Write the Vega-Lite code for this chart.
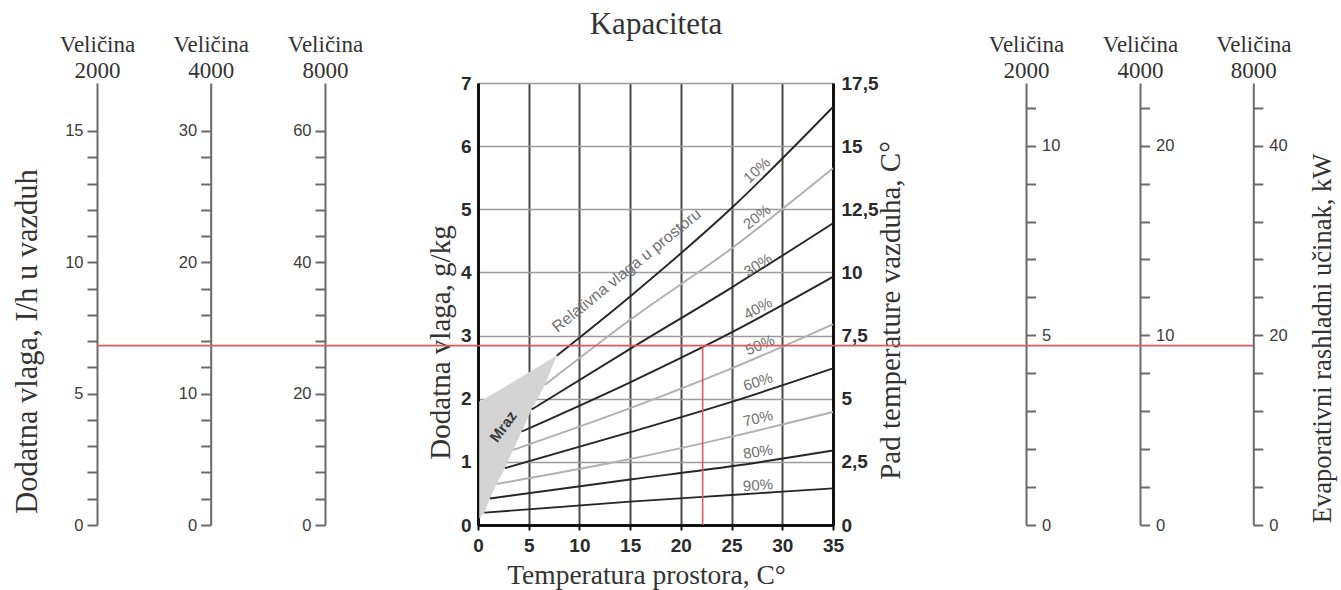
{
  "$schema": "https://vega.github.io/schema/vega-lite/v6.json",
  "width": 355,
  "height": 442,
  "autosize": {"type": "none"},
  "padding": {"left": 478, "top": 83, "right": 508, "bottom": 65},
  "background": "white",
  "config": {"view": {"stroke": null}, "axis": {"labelFlush": false, "labelOverlap": false}},
  "datasets": {
    "rh": [
      {"rh": 10, "x": 7.76, "y": 2.68}, {"rh": 10, "x": 15, "y": 3.62}, {"rh": 10, "x": 25, "y": 5.02}, {"rh": 10, "x": 35, "y": 6.62},
      {"rh": 20, "x": 6.6, "y": 2.22}, {"rh": 20, "x": 15, "y": 3.25}, {"rh": 20, "x": 25, "y": 4.38}, {"rh": 20, "x": 35, "y": 5.65},
      {"rh": 30, "x": 5.29, "y": 1.83}, {"rh": 30, "x": 15, "y": 2.79}, {"rh": 30, "x": 25, "y": 3.76}, {"rh": 30, "x": 35, "y": 4.78},
      {"rh": 40, "x": 4.31, "y": 1.48}, {"rh": 40, "x": 15, "y": 2.26}, {"rh": 40, "x": 25, "y": 3.05}, {"rh": 40, "x": 35, "y": 3.93},
      {"rh": 50, "x": 3.48, "y": 1.19}, {"rh": 50, "x": 15, "y": 1.85}, {"rh": 50, "x": 25, "y": 2.48}, {"rh": 50, "x": 35, "y": 3.18},
      {"rh": 60, "x": 2.66, "y": 0.9}, {"rh": 60, "x": 15, "y": 1.47}, {"rh": 60, "x": 25, "y": 1.95}, {"rh": 60, "x": 35, "y": 2.48},
      {"rh": 70, "x": 1.84, "y": 0.65}, {"rh": 70, "x": 15, "y": 1.045}, {"rh": 70, "x": 25, "y": 1.4}, {"rh": 70, "x": 35, "y": 1.79},
      {"rh": 80, "x": 1.18, "y": 0.42}, {"rh": 80, "x": 15, "y": 0.72}, {"rh": 80, "x": 25, "y": 0.93}, {"rh": 80, "x": 35, "y": 1.18},
      {"rh": 90, "x": 0.62, "y": 0.195}, {"rh": 90, "x": 15, "y": 0.37}, {"rh": 90, "x": 25, "y": 0.475}, {"rh": 90, "x": 35, "y": 0.58}
    ],
    "labels": [
      {"rh": 10, "x": 27.5, "y": 5.62, "t": "10%"},
      {"rh": 20, "x": 27.5, "y": 4.88, "t": "20%"},
      {"rh": 30, "x": 27.6, "y": 4.12, "t": "30%"},
      {"rh": 40, "x": 27.6, "y": 3.43, "t": "40%"},
      {"rh": 50, "x": 27.8, "y": 2.85, "t": "50%"},
      {"rh": 60, "x": 27.6, "y": 2.27, "t": "60%"},
      {"rh": 70, "x": 27.6, "y": 1.69, "t": "70%"},
      {"rh": 80, "x": 27.6, "y": 1.16, "t": "80%"},
      {"rh": 90, "x": 27.6, "y": 0.63, "t": "90%"}
    ],
    "mraz": [
      {"x": 0.12, "y": 1.95, "y2": 0.1},
      {"x": 0.62, "y": 1.995, "y2": 0.195},
      {"x": 1.18, "y": 2.049, "y2": 0.42},
      {"x": 1.84, "y": 2.112, "y2": 0.65},
      {"x": 2.66, "y": 2.19, "y2": 0.9},
      {"x": 3.48, "y": 2.269, "y2": 1.19},
      {"x": 4.31, "y": 2.349, "y2": 1.48},
      {"x": 5.29, "y": 2.443, "y2": 1.83},
      {"x": 6.6, "y": 2.569, "y2": 2.22},
      {"x": 7.76, "y": 2.68, "y2": 2.68}
    ],
    "red": [
      {"x": -37.56, "x2": 76.44, "y": 2.84, "y2": 2.84},
      {"x": 22.15, "x2": 22.15, "y": 0, "y2": 2.84}
    ],
    "rel": [{"x": 14.66, "y": 4.03, "t": "Relativna vlaga u prostoru"}],
    "mr": [{"x": 2.5, "y": 1.56, "t": "Mraz"}],
    "axis0": [{"v": 0}]
  },
  "layer": [
    {
      "data": {"name": "mraz"},
      "mark": {"type": "area", "color": "#d4d4d4", "orient": "vertical"},
      "encoding": {
        "x": {"field": "x", "type": "quantitative", "scale": {"domain": [0, 35], "nice": false, "zero": false},
          "axis": {"values": [0, 5, 10, 15, 20, 25, 30, 35], "grid": true, "gridColor": "#4a4a4a", "gridWidth": 2,
            "domainColor": "#111111", "domainWidth": 3, "tickColor": "#111111", "tickWidth": 2, "tickSize": 5,
            "labelFont": "Liberation Sans Narrow, Liberation Sans, sans-serif", "labelFontWeight": "bold", "labelFontSize": 19, "labelColor": "#2a2a2a", "labelPadding": 6,
            "title": "Temperatura prostora, C°", "titleFont": "Liberation Serif", "titleFontSize": 27.5, "titleFontWeight": "normal", "titleColor": "#333333",
            "titleX": 168, "titleY": 58, "titleAlign": "center", "titleBaseline": "alphabetic", "titleAngle": 0}},
        "y": {"field": "y", "type": "quantitative", "scale": {"domain": [0, 7], "nice": false},
          "axis": {"orient": "left", "values": [0, 1, 2, 3, 4, 5, 6, 7], "grid": true, "gridColor": "#9a9a9a", "gridWidth": 1.5,
            "domainColor": "#111111", "domainWidth": 3, "ticks": false,
            "labelFont": "Liberation Sans Narrow, Liberation Sans, sans-serif", "labelFontWeight": "bold", "labelFontSize": 19, "labelColor": "#2a2a2a", "labelPadding": 7,
            "title": "Dodatna vlaga, g/kg", "titleFont": "Liberation Serif", "titleFontSize": 29, "titleFontWeight": "normal", "titleColor": "#333333",
            "titleAngle": 270, "titleX": -38, "titleY": 259, "titleAlign": "center", "titleBaseline": "middle"}},
        "y2": {"field": "y2"}
      }
    },
    {
      "data": {"name": "rh"},
      "mark": {"type": "line", "strokeWidth": 1.9, "interpolate": "monotone"},
      "encoding": {
        "x": {"field": "x", "type": "quantitative", "scale": {"domain": [0, 35], "nice": false, "zero": false},
          "axis": {"values": [0, 5, 10, 15, 20, 25, 30, 35], "grid": true, "gridColor": "#4a4a4a", "gridWidth": 2,
            "domainColor": "#111111", "domainWidth": 3, "tickColor": "#111111", "tickWidth": 2, "tickSize": 5,
            "labelFont": "Liberation Sans Narrow, Liberation Sans, sans-serif", "labelFontWeight": "bold", "labelFontSize": 19, "labelColor": "#2a2a2a", "labelPadding": 6,
            "title": "Temperatura prostora, C°", "titleFont": "Liberation Serif", "titleFontSize": 27.5, "titleFontWeight": "normal", "titleColor": "#333333",
            "titleX": 168, "titleY": 58, "titleAlign": "center", "titleBaseline": "alphabetic", "titleAngle": 0}},
        "y": {"field": "y", "type": "quantitative", "scale": {"domain": [0, 7], "nice": false},
          "axis": {"orient": "left", "offset": 0, "domain": false, "ticks": false, "labels": false, "grid": false,
            "title": "Kapaciteta", "titleFont": "Liberation Serif", "titleFontSize": 31, "titleFontWeight": "normal", "titleColor": "#333333",
            "titleAngle": 0, "titleX": 177.5, "titleY": -50, "titleAlign": "center", "titleBaseline": "alphabetic"}},
        "color": {"field": "rh", "type": "nominal",
          "scale": {"domain": [10, 20, 30, 40, 50, 60, 70, 80, 90], "range": ["#262626", "#b0b0b0", "#262626", "#262626", "#b0b0b0", "#262626", "#b0b0b0", "#262626", "#262626"]},
          "legend": null}
      }
    },
    {
      "data": {"name": "labels"},
      "mark": {"type": "text", "font": "Liberation Sans", "fontSize": 15, "color": "#707070", "align": "center", "baseline": "middle"},
      "encoding": {
        "x": {"field": "x", "type": "quantitative", "scale": {"domain": [0, 35], "nice": false, "zero": false},
          "axis": {"values": [0, 5, 10, 15, 20, 25, 30, 35], "grid": true, "gridColor": "#4a4a4a", "gridWidth": 2,
            "domainColor": "#111111", "domainWidth": 3, "tickColor": "#111111", "tickWidth": 2, "tickSize": 5,
            "labelFont": "Liberation Sans Narrow, Liberation Sans, sans-serif", "labelFontWeight": "bold", "labelFontSize": 19, "labelColor": "#2a2a2a", "labelPadding": 6,
            "title": "Temperatura prostora, C°", "titleFont": "Liberation Serif", "titleFontSize": 27.5, "titleFontWeight": "normal", "titleColor": "#333333",
            "titleX": 168, "titleY": 58, "titleAlign": "center", "titleBaseline": "alphabetic", "titleAngle": 0}},
        "y": {"field": "y", "type": "quantitative", "scale": {"domain": [0, 7], "nice": false},
          "axis": {"orient": "left", "offset": 451, "domain": false, "ticks": false, "labels": false, "grid": false,
            "title": "Dodatna vlaga, I/h u vazduh", "titleFont": "Liberation Serif", "titleFontSize": 30.5, "titleFontWeight": "normal", "titleColor": "#333333",
            "titleAngle": 270, "titleX": 0, "titleY": 258, "titleAlign": "center", "titleBaseline": "middle"}},
        "text": {"field": "t"},
        "angle": {"field": "rh", "type": "quantitative",
          "scale": {"domain": [10, 20, 30, 40, 50, 60, 70, 80, 90], "range": [-43, -38, -33, -29, -23, -18, -13, -9, -4]}}
      }
    },
    {
      "data": {"name": "rel"},
      "mark": {"type": "text", "font": "Liberation Sans", "fontSize": 16, "color": "#707070", "align": "center", "baseline": "middle", "angle": -39},
      "encoding": {
        "x": {"field": "x", "type": "quantitative", "scale": {"domain": [0, 35], "nice": false, "zero": false},
          "axis": {"values": [0, 5, 10, 15, 20, 25, 30, 35], "grid": true, "gridColor": "#4a4a4a", "gridWidth": 2,
            "domainColor": "#111111", "domainWidth": 3, "tickColor": "#111111", "tickWidth": 2, "tickSize": 5,
            "labelFont": "Liberation Sans Narrow, Liberation Sans, sans-serif", "labelFontWeight": "bold", "labelFontSize": 19, "labelColor": "#2a2a2a", "labelPadding": 6,
            "title": "Temperatura prostora, C°", "titleFont": "Liberation Serif", "titleFontSize": 27.5, "titleFontWeight": "normal", "titleColor": "#333333",
            "titleX": 168, "titleY": 58, "titleAlign": "center", "titleBaseline": "alphabetic", "titleAngle": 0}},
        "y": {"field": "y", "type": "quantitative", "scale": {"domain": [0, 7], "nice": false},
          "axis": {"orient": "right", "offset": 489, "domain": false, "ticks": false, "labels": false, "grid": false,
            "title": "Evaporativni rashladni učinak, kW", "titleFont": "Liberation Serif", "titleFontSize": 26.5, "titleFontWeight": "normal", "titleColor": "#333333",
            "titleAngle": 270, "titleX": 0, "titleY": 255, "titleAlign": "center", "titleBaseline": "middle"}},
        "text": {"field": "t"}
      }
    },
    {
      "data": {"name": "mr"},
      "mark": {"type": "text", "font": "Liberation Sans Narrow, Liberation Sans, sans-serif", "fontSize": 15, "fontWeight": "bold", "color": "#3a3a3a", "align": "center", "baseline": "middle", "angle": -54},
      "encoding": {
        "x": {"field": "x", "type": "quantitative", "scale": {"domain": [0, 35], "nice": false, "zero": false},
          "axis": {"values": [0, 5, 10, 15, 20, 25, 30, 35], "grid": true, "gridColor": "#4a4a4a", "gridWidth": 2,
            "domainColor": "#111111", "domainWidth": 3, "tickColor": "#111111", "tickWidth": 2, "tickSize": 5,
            "labelFont": "Liberation Sans Narrow, Liberation Sans, sans-serif", "labelFontWeight": "bold", "labelFontSize": 19, "labelColor": "#2a2a2a", "labelPadding": 6,
            "title": "Temperatura prostora, C°", "titleFont": "Liberation Serif", "titleFontSize": 27.5, "titleFontWeight": "normal", "titleColor": "#333333",
            "titleX": 168, "titleY": 58, "titleAlign": "center", "titleBaseline": "alphabetic", "titleAngle": 0}},
        "y": {"field": "y", "type": "quantitative", "scale": {"domain": [0, 7], "nice": false}, "axis": null},
        "text": {"field": "t"}
      }
    },
    {
      "data": {"name": "red"},
      "mark": {"type": "rule", "color": "#e05a5a", "strokeWidth": 1.6},
      "encoding": {
        "x": {"field": "x", "type": "quantitative", "scale": {"domain": [0, 35], "nice": false, "zero": false},
          "axis": {"values": [0, 5, 10, 15, 20, 25, 30, 35], "grid": true, "gridColor": "#4a4a4a", "gridWidth": 2,
            "domainColor": "#111111", "domainWidth": 3, "tickColor": "#111111", "tickWidth": 2, "tickSize": 5,
            "labelFont": "Liberation Sans Narrow, Liberation Sans, sans-serif", "labelFontWeight": "bold", "labelFontSize": 19, "labelColor": "#2a2a2a", "labelPadding": 6,
            "title": "Temperatura prostora, C°", "titleFont": "Liberation Serif", "titleFontSize": 27.5, "titleFontWeight": "normal", "titleColor": "#333333",
            "titleX": 168, "titleY": 58, "titleAlign": "center", "titleBaseline": "alphabetic", "titleAngle": 0}},
        "x2": {"field": "x2"},
        "y": {"field": "y", "type": "quantitative", "scale": {"domain": [0, 7], "nice": false}, "axis": null},
        "y2": {"field": "y2"}
      }
    },
    {
      "data": {"name": "axis0"},
      "mark": {"type": "point", "opacity": 0},
      "encoding": {
        "y": {"field": "v", "type": "quantitative", "scale": {"domain": [0, 17.5], "nice": false},
          "axis": {"orient": "right", "offset": 0, "values": [0, 2.5, 5, 7.5, 10, 12.5, 15, 17.5],
            "labelExpr": "replace(format(datum.value, '~g'), '.', ',')",
            "grid": false, "domainColor": "#111111", "domainWidth": 3, "ticks": false,
            "labelFont": "Liberation Sans Narrow, Liberation Sans, sans-serif", "labelFontWeight": "bold", "labelFontSize": 19, "labelColor": "#2a2a2a", "labelPadding": 8,
            "title": "Pad temperature vazduha, C°", "titleFont": "Liberation Serif", "titleFontSize": 29, "titleFontWeight": "normal", "titleColor": "#333333",
            "titleAngle": 270, "titleX": 57, "titleY": 227, "titleAlign": "center", "titleBaseline": "middle"}}
      }
    },
    {
      "data": {"name": "axis0"},
      "mark": {"type": "point", "opacity": 0},
      "encoding": {
        "y": {"field": "v", "type": "quantitative", "scale": {"domain": [0, 16.827], "nice": false},
          "axis": {"orient": "left", "offset": 381, "values": [0, 1, 2, 3, 4, 5, 6, 7, 8, 9, 10, 11, 12, 13, 14, 15],
            "labelExpr": "datum.value % 5 === 0 ? datum.label : ''", "grid": false,
            "domainColor": "#6a6a6a", "domainWidth": 2, "tickColor": "#6a6a6a", "tickWidth": 2, "tickSize": 10,
            "labelFont": "Liberation Sans", "labelFontSize": 16.5, "labelColor": "#3c3c3c", "labelPadding": 4,
            "title": ["Veličina", "2000"], "titleFont": "Liberation Serif", "titleFontSize": 23, "titleFontWeight": "normal", "titleColor": "#333333",
            "titleAngle": 0, "titleX": 0, "titleY": -31.3, "titleAlign": "center", "titleBaseline": "alphabetic", "titleLineHeight": 25.5}}
      }
    },
    {
      "data": {"name": "axis0"},
      "mark": {"type": "point", "opacity": 0},
      "encoding": {
        "y": {"field": "v", "type": "quantitative", "scale": {"domain": [0, 33.654], "nice": false},
          "axis": {"orient": "left", "offset": 267.3, "values": [0, 2, 4, 6, 8, 10, 12, 14, 16, 18, 20, 22, 24, 26, 28, 30],
            "labelExpr": "datum.value % 10 === 0 ? datum.label : ''", "grid": false,
            "domainColor": "#6a6a6a", "domainWidth": 2, "tickColor": "#6a6a6a", "tickWidth": 2, "tickSize": 10,
            "labelFont": "Liberation Sans", "labelFontSize": 16.5, "labelColor": "#3c3c3c", "labelPadding": 4,
            "title": ["Veličina", "4000"], "titleFont": "Liberation Serif", "titleFontSize": 23, "titleFontWeight": "normal", "titleColor": "#333333",
            "titleAngle": 0, "titleX": 0, "titleY": -31.3, "titleAlign": "center", "titleBaseline": "alphabetic", "titleLineHeight": 25.5}}
      }
    },
    {
      "data": {"name": "axis0"},
      "mark": {"type": "point", "opacity": 0},
      "encoding": {
        "y": {"field": "v", "type": "quantitative", "scale": {"domain": [0, 67.308], "nice": false},
          "axis": {"orient": "left", "offset": 153, "values": [0, 4, 8, 12, 16, 20, 24, 28, 32, 36, 40, 44, 48, 52, 56, 60],
            "labelExpr": "datum.value % 20 === 0 ? datum.label : ''", "grid": false,
            "domainColor": "#6a6a6a", "domainWidth": 2, "tickColor": "#6a6a6a", "tickWidth": 2, "tickSize": 10,
            "labelFont": "Liberation Sans", "labelFontSize": 16.5, "labelColor": "#3c3c3c", "labelPadding": 4,
            "title": ["Veličina", "8000"], "titleFont": "Liberation Serif", "titleFontSize": 23, "titleFontWeight": "normal", "titleColor": "#333333",
            "titleAngle": 0, "titleX": 0, "titleY": -31.3, "titleAlign": "center", "titleBaseline": "alphabetic", "titleLineHeight": 25.5}}
      }
    },
    {
      "data": {"name": "axis0"},
      "mark": {"type": "point", "opacity": 0},
      "encoding": {
        "y": {"field": "v", "type": "quantitative", "scale": {"domain": [0, 11.653], "nice": false},
          "axis": {"orient": "right", "offset": 193, "values": [0, 1, 2, 3, 4, 5, 6, 7, 8, 9, 10, 11],
            "labelExpr": "datum.value % 5 === 0 ? datum.label : ''", "grid": false,
            "domainColor": "#6a6a6a", "domainWidth": 2, "tickColor": "#6a6a6a", "tickWidth": 2, "tickSize": 9.5,
            "labelFont": "Liberation Sans", "labelFontSize": 16.5, "labelColor": "#3c3c3c", "labelPadding": 6,
            "title": ["Veličina", "2000"], "titleFont": "Liberation Serif", "titleFontSize": 23, "titleFontWeight": "normal", "titleColor": "#333333",
            "titleAngle": 0, "titleX": 0, "titleY": -31.3, "titleAlign": "center", "titleBaseline": "alphabetic", "titleLineHeight": 25.5}}
      }
    },
    {
      "data": {"name": "axis0"},
      "mark": {"type": "point", "opacity": 0},
      "encoding": {
        "y": {"field": "v", "type": "quantitative", "scale": {"domain": [0, 23.306], "nice": false},
          "axis": {"orient": "right", "offset": 307, "values": [0, 2, 4, 6, 8, 10, 12, 14, 16, 18, 20, 22],
            "labelExpr": "datum.value % 10 === 0 ? datum.label : ''", "grid": false,
            "domainColor": "#6a6a6a", "domainWidth": 2, "tickColor": "#6a6a6a", "tickWidth": 2, "tickSize": 9.5,
            "labelFont": "Liberation Sans", "labelFontSize": 16.5, "labelColor": "#3c3c3c", "labelPadding": 6,
            "title": ["Veličina", "4000"], "titleFont": "Liberation Serif", "titleFontSize": 23, "titleFontWeight": "normal", "titleColor": "#333333",
            "titleAngle": 0, "titleX": 0, "titleY": -31.3, "titleAlign": "center", "titleBaseline": "alphabetic", "titleLineHeight": 25.5}}
      }
    },
    {
      "data": {"name": "axis0"},
      "mark": {"type": "point", "opacity": 0},
      "encoding": {
        "y": {"field": "v", "type": "quantitative", "scale": {"domain": [0, 46.612], "nice": false},
          "axis": {"orient": "right", "offset": 420.3, "values": [0, 4, 8, 12, 16, 20, 24, 28, 32, 36, 40, 44],
            "labelExpr": "datum.value % 20 === 0 ? datum.label : ''", "grid": false,
            "domainColor": "#6a6a6a", "domainWidth": 2, "tickColor": "#6a6a6a", "tickWidth": 2, "tickSize": 9.5,
            "labelFont": "Liberation Sans", "labelFontSize": 16.5, "labelColor": "#3c3c3c", "labelPadding": 6,
            "title": ["Veličina", "8000"], "titleFont": "Liberation Serif", "titleFontSize": 23, "titleFontWeight": "normal", "titleColor": "#333333",
            "titleAngle": 0, "titleX": 0, "titleY": -31.3, "titleAlign": "center", "titleBaseline": "alphabetic", "titleLineHeight": 25.5}}
      }
    }
  ],
  "resolve": {"scale": {"x": "shared", "y": "independent"}, "axis": {"x": "shared", "y": "independent"}}
}
